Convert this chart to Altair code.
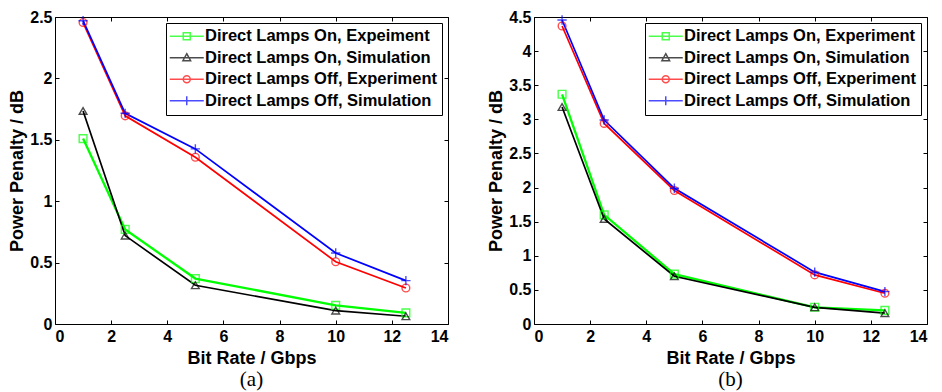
import altair as alt
import pandas as pd

rates = [1, 2.5, 5, 10, 12.5]

names_a = ["Direct Lamps On, Expeiment", "Direct Lamps On, Simulation",
           "Direct Lamps Off, Experiment", "Direct Lamps Off, Simulation"]
names_b = ["Direct Lamps On, Experiment", "Direct Lamps On, Simulation",
           "Direct Lamps Off, Experiment", "Direct Lamps Off, Simulation"]
marker_keys = ["sq", "tri", "circ", "plus"]

# panel (a)
a_on_exp = [1.51, 0.77, 0.37, 0.152, 0.09]
a_on_sim = [1.735, 0.72, 0.315, 0.109, 0.063]
a_off_exp = [2.455, 1.695, 1.358, 0.507, 0.293]
a_off_sim = [2.47, 1.716, 1.426, 0.578, 0.353]

# panel (b)
b_on_exp = [3.367, 1.60, 0.73, 0.245, 0.20]
b_on_sim = [3.18, 1.54, 0.70, 0.245, 0.16]
b_off_exp = [4.368, 2.94, 1.957, 0.72, 0.45]
b_off_sim = [4.456, 2.99, 1.99, 0.76, 0.474]

colors = ["#00ff00", "#000000", "#ff0000", "#0000ff"]
plot_shapes = ["square", "triangle-up", "circle", "M-1.2,0H1.2M0,-1.2V1.2"]
L = "M-4.86,0H4.86"
legend_paths = [L + "M-1,-1H1V1H-1Z",
                L + "M0,-1.15L1.1,0.85H-1.1Z",
                L + "M1,0A1,1,0,1,1,-1,0A1,1,0,1,1,1,0",
                L + "M0,-1.3V1.3"]
x_ticks = [0, 2, 4, 6, 8, 10, 12, 14]

FONT = "Liberation Sans"


def make_df(names, series):
    rows = []
    for nm, mk, vals in zip(names, marker_keys, series):
        for r, v in zip(rates, vals):
            rows.append({"rate": r, "value": v, "series": nm, "marker": mk})
    return pd.DataFrame(rows)


def panel(names, series, ymax, y_ticks, caption):
    df = make_df(names, series)
    xs = alt.Scale(domain=[0, 14], nice=False, zero=False)
    ys = alt.Scale(domain=[0, ymax], nice=False)
    cs = alt.Scale(domain=names, range=colors)
    expr = "'" + legend_paths[3] + "'"
    for nm, p in reversed(list(zip(names[:3], legend_paths[:3]))):
        expr = "datum.value === '" + nm + "' ? '" + p + "' : " + expr

    def leg():
        return alt.Legend(
            title=None, orient="top-right", offset=6, strokeColor="black",
            fillColor="white", padding=5, labelFont=FONT, labelFontSize=16.5,
            labelFontWeight="bold", labelColor="black", labelLimit=500,
            symbolSize=49, symbolStrokeWidth=1.5, symbolOffset=7.5,
            labelOffset=10, rowPadding=4.5, cornerRadius=0,
            symbolType=alt.ExprRef(expr=expr))

    common_axis = dict(tickColor="black", tickWidth=1, tickSize=4, offset=-4,
                       domain=False, grid=False, labelColor="black",
                       titleColor="black", labelFont=FONT, titleFont=FONT,
                       labelFontSize=16, labelFontWeight="bold",
                       titleFontSize=18, titleFontWeight="bold", format="~g")

    x_main = alt.Axis(values=x_ticks, title="Bit Rate / Gbps", labelPadding=4,
                      titlePadding=5, **common_axis)
    y_main = alt.Axis(values=y_ticks, title="Power Penalty / dB", labelPadding=3,
                      titlePadding=3, **common_axis)
    x_top = alt.Axis(values=x_ticks, orient="top", labels=False, title=None,
                     tickColor="black", tickSize=4, offset=-4, domain=False, grid=False)
    y_right = alt.Axis(values=y_ticks, orient="right", labels=False, title=None,
                       tickColor="black", tickSize=4, offset=-4, domain=False, grid=False)

    base = alt.Chart(df)
    green = base.transform_filter(alt.datum.marker == "sq").mark_line(strokeWidth=2.3).encode(
        x=alt.X("rate:Q", scale=xs, axis=x_main),
        y=alt.Y("value:Q", scale=ys, axis=y_main),
        color=alt.Color("series:N", scale=cs, sort=names, legend=leg()),
        order=alt.Order("rate:Q"),
    )
    rest = base.transform_filter(alt.datum.marker != "sq").mark_line(strokeWidth=1.7).encode(
        x=alt.X("rate:Q", scale=xs, axis=x_top),
        y=alt.Y("value:Q", scale=ys, axis=y_right),
        color=alt.Color("series:N", scale=cs, sort=names, legend=leg()),
        order=alt.Order("rate:Q"),
    )
    points = base.mark_point(filled=False, size=60, strokeWidth=1.4).encode(
        x=alt.X("rate:Q", scale=xs, axis=None),
        y=alt.Y("value:Q", scale=ys, axis=None),
        color=alt.Color("series:N", scale=cs, sort=names, legend=leg()),
        shape=alt.Shape("marker:N", scale=alt.Scale(domain=marker_keys, range=plot_shapes),
                        legend=None),
    )
    return alt.layer(green, rest, points).resolve_axis(
        x="independent", y="independent"
    ).properties(
        width=393, height=307,
        title=alt.TitleParams(caption, orient="bottom", font="Liberation Serif",
                              fontSize=21, fontWeight="normal", color="black",
                              anchor="middle", frame="group", offset=2),
    )


left = panel(names_a, [a_on_exp, a_on_sim, a_off_exp, a_off_sim], 2.5,
             [0, 0.5, 1, 1.5, 2, 2.5], "(a)")
right = panel(names_b, [b_on_exp, b_on_sim, b_off_exp, b_off_sim], 4.5,
              [0, 0.5, 1, 1.5, 2, 2.5, 3, 3.5, 4, 4.5], "(b)")

chart = alt.hconcat(left, right, spacing=38).resolve_scale(
    color="independent", shape="independent",
    x="independent", y="independent"
).properties(
    padding={"left": 0, "top": 0, "right": 0, "bottom": 0},
    background="white",
).configure_view(stroke="black", strokeWidth=1)

chart.save("out.html", embed_options={"renderer": "svg", "actions": False})
